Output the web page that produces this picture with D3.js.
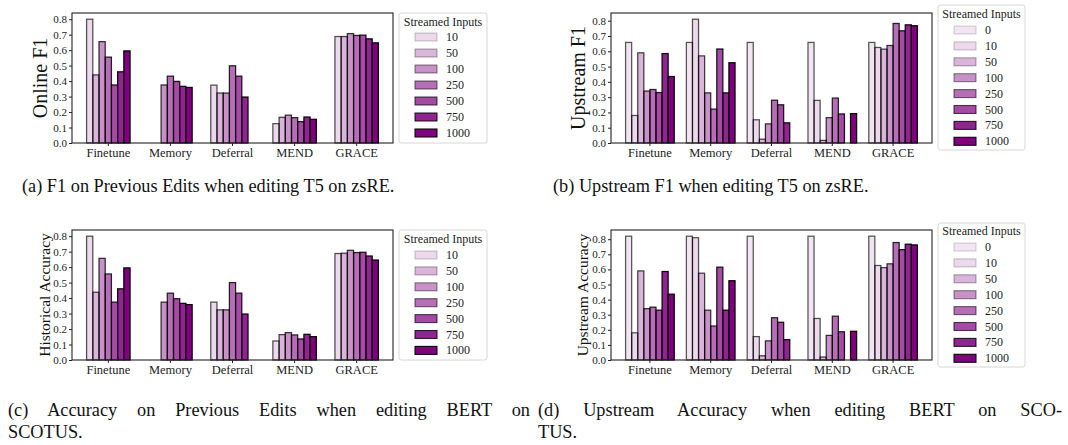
<!DOCTYPE html>
<html>
<head>
<meta charset="utf-8">
<script src="https://cdn.jsdelivr.net/npm/d3@7"></script>
<style>
  body { margin: 0; background: #fff; }
  svg { display: block; }
</style>
</head>
<body>
<svg id="fig" width="1068" height="445"></svg>
<script>
// Editing methods on the x axis
const methods = ["Finetune", "Memory", "Deferral", "MEND", "GRACE"];

// Number of streamed inputs (legend entries)
const streamsPrev = ["10", "50", "100", "250", "500", "750", "1000"];
const streamsUp = ["0", "10", "50", "100", "250", "500", "750", "1000"];

// Y tick values shared by all panels
const yTicks = [0, 0.1, 0.2, 0.3, 0.4, 0.5, 0.6, 0.7, 0.8];

// (a) Online F1, T5 on zsRE — one row per method, one value per stream size
const onlineF1 = [
  [0.80, 0.44, 0.655, 0.555, 0.375, 0.46, 0.595],
  [0, 0, 0.375, 0.432, 0.398, 0.366, 0.359],
  [0.374, 0.323, 0.323, 0.499, 0.432, 0.297, null],
  [0.125, 0.166, 0.18, 0.164, 0.138, 0.168, 0.153],
  [0.688, 0.688, 0.707, 0.695, 0.697, 0.673, 0.647]
];

// (b) Upstream F1, T5 on zsRE
const upstreamF1 = [
  [0.658, 0.18, 0.59, 0.34, 0.35, 0.33, 0.585, 0.435],
  [0.658, 0.81, 0.57, 0.328, 0.222, 0.615, 0.328, 0.525],
  [0.658, 0.152, 0.025, 0.125, 0.28, 0.25, 0.132, null],
  [0.658, 0.279, 0.017, 0.166, 0.294, 0.19, null, 0.192],
  [0.658, 0.625, 0.614, 0.638, 0.782, 0.734, 0.773, 0.767]
];

// (c) Historical accuracy, BERT on SCOTUS
const historicalAcc = [
  [0.80, 0.438, 0.657, 0.556, 0.374, 0.46, 0.595],
  [0, 0, 0.374, 0.432, 0.396, 0.366, 0.358],
  [0.374, 0.324, 0.324, 0.5, 0.432, 0.297, null],
  [0.123, 0.164, 0.177, 0.162, 0.136, 0.166, 0.151],
  [0.688, 0.69, 0.709, 0.694, 0.696, 0.672, 0.646]
];

// (d) Upstream accuracy, BERT on SCOTUS
const upstreamAcc = [
  [0.82, 0.18, 0.59, 0.34, 0.35, 0.33, 0.586, 0.436],
  [0.82, 0.81, 0.575, 0.33, 0.225, 0.615, 0.33, 0.525],
  [0.82, 0.155, 0.028, 0.127, 0.28, 0.25, 0.135, null],
  [0.82, 0.275, 0.02, 0.163, 0.29, 0.187, null, 0.19],
  [0.82, 0.626, 0.612, 0.637, 0.778, 0.731, 0.767, 0.762]
];

// Opacity of the purple fill for each stream size
const streamAlpha = { "0": 0.1, "10": 0.15, "50": 0.29, "100": 0.43, "250": 0.57, "500": 0.71, "750": 0.86, "1000": 1 };

const SERIF = "'Liberation Serif', 'DejaVu Serif', serif";

const panels = [
  { data: onlineF1, series: streamsPrev, yLabel: "Online F1", labelX: 40, labelSize: 20,
    box: { x0: 72, x1: 393, y0: 13, y1: 143 },
    legend: { x: 399, y: 13, w: 88, h: 130, titleY: 22, rowY0: 37, rowStep: 16 } },
  { data: upstreamF1, series: streamsUp, yLabel: "Upstream F1", labelX: 578, labelSize: 20,
    box: { x0: 611, x1: 932, y0: 13, y1: 143 },
    legend: { x: 938, y: 5, w: 87, h: 145, titleY: 14, rowY0: 30, rowStep: 15.9 } },
  { data: historicalAcc, series: streamsPrev, yLabel: "Historical Accuracy", labelX: 44, labelSize: 15.5,
    box: { x0: 72, x1: 393, y0: 230, y1: 360 },
    legend: { x: 399, y: 230, w: 88, h: 130, titleY: 239, rowY0: 255, rowStep: 15.9 } },
  { data: upstreamAcc, series: streamsUp, yLabel: "Upstream Accuracy", labelX: 582, labelSize: 15.5,
    box: { x0: 611, x1: 932, y0: 230, y1: 360 },
    legend: { x: 938, y: 223, w: 87, h: 144, titleY: 231, rowY0: 247, rowStep: 15.9 } }
];

const captions = [
  { lines: ["(a) F1 on Previous Edits when editing T5 on zsRE."], x: 22, y: 192, width: null },
  { lines: ["(b) Upstream F1 when editing T5 on zsRE."], x: 553, y: 192, width: null },
  { lines: ["(c) Accuracy on Previous Edits when editing BERT on", "SCOTUS."], x: 8, y: 416, width: 522 },
  { lines: ["(d) Upstream Accuracy when editing BERT on SCO-", "TUS."], x: 538, y: 416, width: 524 }
];

const svg = d3.select("#fig").attr("font-family", SERIF);

panels.forEach(p => {
  const n = p.series.length;
  const b = p.box;
  const span = 4 + 0.1 * n;            // bar extent in category units
  const x = d3.scaleBand()
    .domain(methods)
    .range([b.x0, b.x1])
    .paddingInner(1 - 0.1 * n)
    .paddingOuter(0.05 * span);
  const xs = d3.scaleBand().domain(p.series).range([0, x.bandwidth()]).padding(0);
  const maxV = d3.max(p.data.flat().filter(v => v != null));
  const y = d3.scaleLinear().domain([0, maxV * 1.05]).range([b.y1, b.y0]);

  const g = svg.append("g");

  // bars
  const groups = g.selectAll("g.method")
    .data(methods)
    .join("g")
    .attr("transform", m => `translate(${x(m)},0)`);

  groups.selectAll("rect")
    .data((m, i) => p.series.map((s, j) => ({ s, v: p.data[i][j] })).filter(d => d.v != null))
    .join("rect")
    .attr("x", d => xs(d.s))
    .attr("width", xs.bandwidth())
    .attr("y", d => y(d.v))
    .attr("height", d => y(0) - y(d.v))
    .attr("fill", "purple")
    .attr("fill-opacity", d => streamAlpha[d.s])
    .attr("stroke", "black")
    .attr("stroke-opacity", d => 0.62 + 0.38 * streamAlpha[d.s])
    .attr("stroke-width", 1.25);

  // axes
  const yAxis = g.append("g")
    .attr("transform", `translate(${b.x0},0)`)
    .call(d3.axisLeft(y).tickValues(yTicks).tickFormat(d3.format(".1f")).tickSize(3).tickPadding(2))
    .attr("font-family", SERIF);
  yAxis.select(".domain").remove();
  yAxis.selectAll("text").attr("font-size", 11).attr("fill", "#222");
  yAxis.selectAll("line").attr("stroke", "#222");

  const xAxis = g.append("g")
    .attr("transform", `translate(0,${b.y1})`)
    .call(d3.axisBottom(x).tickSize(3).tickPadding(2.5))
    .attr("font-family", SERIF);
  xAxis.select(".domain").remove();
  xAxis.selectAll("text").attr("font-size", 12.5).attr("fill", "#222");
  xAxis.selectAll("line").attr("stroke", "#222");

  // frame
  g.append("rect")
    .attr("x", b.x0).attr("y", b.y0)
    .attr("width", b.x1 - b.x0).attr("height", b.y1 - b.y0)
    .attr("fill", "none").attr("stroke", "#222").attr("stroke-width", 1.1);

  // y label
  g.append("text")
    .attr("transform", `translate(${p.labelX},${(b.y0 + b.y1) / 2}) rotate(-90)`)
    .attr("text-anchor", "middle")
    .attr("dominant-baseline", "central")
    .attr("font-size", p.labelSize)
    .attr("fill", "#111")
    .text(p.yLabel);

  // legend
  const L = p.legend;
  const lg = g.append("g");
  lg.append("rect")
    .attr("x", L.x).attr("y", L.y).attr("width", L.w).attr("height", L.h)
    .attr("rx", 2.5).attr("fill", "white").attr("stroke", "#d6d6d6").attr("stroke-width", 1);
  lg.append("text")
    .attr("x", L.x + L.w / 2).attr("y", L.titleY)
    .attr("text-anchor", "middle").attr("dominant-baseline", "central")
    .attr("font-size", 12).attr("fill", "#222")
    .text("Streamed Inputs");
  const rows = lg.selectAll("g.row")
    .data(p.series)
    .join("g")
    .attr("transform", (s, i) => `translate(${L.x + 16},${L.rowY0 + i * L.rowStep})`);
  rows.append("rect")
    .attr("x", 0).attr("y", -4).attr("width", 22).attr("height", 8)
    .attr("fill", "purple").attr("fill-opacity", s => streamAlpha[s])
    .attr("stroke", "black").attr("stroke-opacity", s => 0.08 + 0.85 * streamAlpha[s])
    .attr("stroke-width", 1.1);
  rows.append("text")
    .attr("x", 31).attr("y", 0)
    .attr("dominant-baseline", "central")
    .attr("font-size", 12).attr("fill", "#222")
    .text(s => s);
});

// captions
captions.forEach(c => {
  c.lines.forEach((line, i) => {
    const t = svg.append("text")
      .attr("x", c.x).attr("y", c.y + i * 22)
      .attr("font-size", 18.3).attr("fill", "#111")
      .text(line);
    // justify every line but the last of a multi-line caption
    if (c.width && i < c.lines.length - 1) {
      const gaps = line.split(" ").length - 1;
      const extra = (c.width - t.node().getComputedTextLength()) / gaps;
      t.attr("word-spacing", extra);
    }
  });
});
</script>
</body>
</html>
